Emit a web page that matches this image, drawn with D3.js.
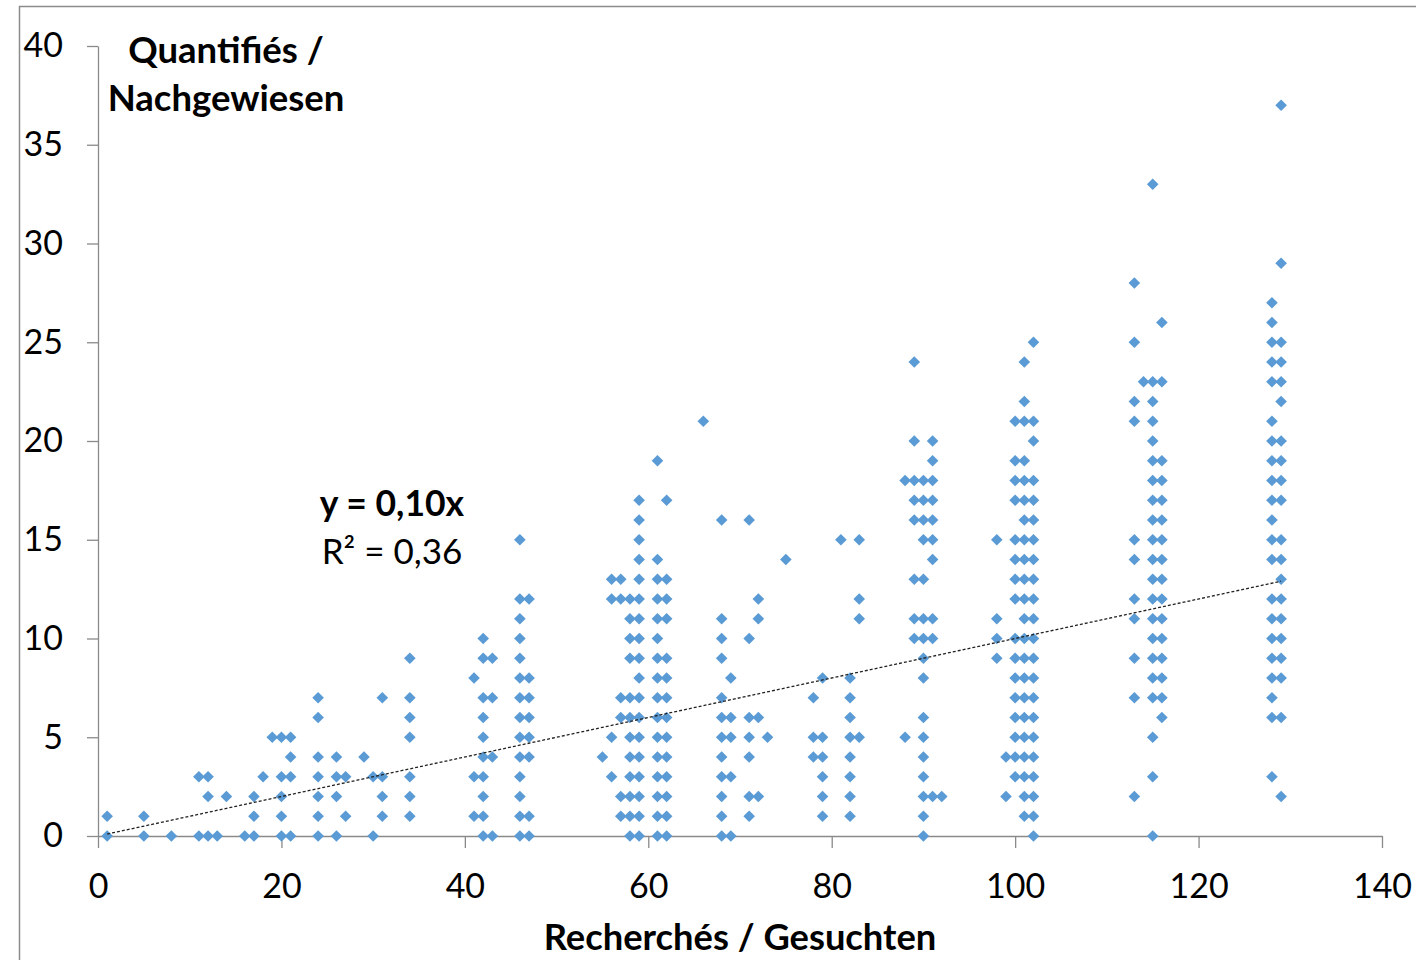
<!DOCTYPE html>
<html>
<head>
<meta charset="utf-8">
<script src="https://cdn.jsdelivr.net/npm/d3@7"></script>
<style>
  html, body { margin: 0; padding: 0; background: #fff; }
  svg { display: block; }
  text { font-family: Lato, "Open Sans", sans-serif; fill: #000; }
</style>
</head>
<body>
<svg id="chart" width="1416" height="960"></svg>
<script>
// ---- data: one entry per column (x value) with its list of y values ----
const columnX = [1, 5, 8, 11, 12, 13, 14, 16, 17, 18, 19, 20, 21, 24, 26, 27, 29, 30, 31, 34,
  41, 42, 43, 46, 47, 55, 56, 57, 58, 59, 61, 62, 66, 68, 69, 71, 72, 73, 75, 78, 79, 81, 82, 83,
  88, 89, 90, 91, 92, 98, 99, 100, 101, 102, 113, 114, 115, 116, 128, 129];
const columnY = [
  [0, 1], [0, 1], [0], [0, 3], [0, 2, 3], [0], [2], [0], [0, 1, 2], [3], [5], [0, 1, 2, 3, 5], [0, 3, 4, 5],
  [0, 1, 2, 3, 4, 6, 7], [0, 2, 3, 4], [1, 3], [4], [0, 3], [1, 2, 3, 7], [1, 2, 3, 5, 6, 7, 9],
  [1, 3, 8], [0, 1, 2, 3, 4, 5, 6, 7, 9, 10], [0, 4, 7, 9],
  [0, 1, 2, 3, 4, 5, 6, 7, 8, 9, 10, 11, 12, 15], [0, 1, 4, 5, 6, 7, 8, 12],
  [4], [3, 5, 12, 13], [1, 2, 6, 7, 12, 13], [0, 1, 2, 3, 4, 5, 6, 7, 9, 10, 11, 12],
  [0, 1, 2, 3, 4, 5, 6, 7, 8, 9, 10, 11, 12, 13, 14, 15, 16, 17],
  [0, 1, 2, 3, 4, 5, 6, 7, 8, 9, 10, 11, 12, 13, 14, 19],
  [0, 1, 2, 3, 4, 5, 6, 7, 8, 9, 11, 12, 13, 17],
  [21], [0, 1, 2, 3, 4, 5, 6, 7, 9, 10, 11, 16], [0, 3, 5, 6, 8], [1, 2, 4, 5, 6, 10, 16],
  [2, 6, 11, 12], [5], [14], [4, 5, 7], [1, 2, 3, 4, 5, 8], [15], [1, 2, 3, 4, 5, 6, 7, 8], [5, 11, 12, 15],
  [5, 18], [10, 11, 13, 16, 17, 18, 20, 24], [0, 1, 2, 3, 4, 5, 6, 8, 9, 10, 11, 13, 15, 16, 17, 18],
  [2, 10, 11, 14, 15, 16, 17, 18, 19, 20], [2],
  [9, 10, 11, 15], [2, 4],
  [3, 4, 5, 6, 7, 8, 9, 10, 12, 13, 14, 15, 17, 18, 19, 21],
  [1, 2, 3, 4, 5, 6, 7, 8, 9, 10, 11, 12, 13, 14, 15, 16, 17, 18, 19, 21, 22, 24],
  [0, 1, 2, 3, 4, 5, 6, 7, 8, 9, 10, 11, 12, 13, 14, 15, 16, 17, 18, 20, 21, 25],
  [2, 7, 9, 11, 12, 14, 15, 21, 22, 25, 28], [23],
  [0, 3, 5, 7, 8, 9, 10, 11, 12, 13, 14, 15, 16, 17, 18, 19, 20, 21, 22, 23, 33],
  [6, 7, 8, 9, 10, 11, 12, 13, 14, 15, 16, 17, 18, 19, 23, 26],
  [3, 6, 7, 8, 9, 10, 11, 12, 14, 15, 16, 17, 18, 19, 20, 21, 23, 24, 25, 26, 27],
  [2, 6, 8, 9, 10, 11, 12, 13, 14, 15, 17, 18, 19, 20, 22, 23, 24, 25, 29, 37]
];
const xTicks = [0, 20, 40, 60, 80, 100, 120, 140];
const yTicks = [0, 5, 10, 15, 20, 25, 30, 35, 40];
const trendSlope = 0.10;
const xTitle = "Recherchés / Gesuchten";
const yTitleLines = ["Quantifiés /", "Nachgewiesen"];
const equationText = "y = 0,10x";
const r2Text = "R² = 0,36";

// ---- build points ----
const points = [];
columnX.forEach((x, i) => columnY[i].forEach(y => points.push({ x, y })));

const svg = d3.select("#chart");
const plot = { left: 98, right: 1382, top: 46, bottom: 836 };

const x = d3.scaleLinear().domain([0, 140]).range([plot.left, plot.right]);
const y = d3.scaleLinear().domain([0, 40]).range([plot.bottom, plot.top]);

// outer chart-area frame
svg.append("rect")
  .attr("x", 19.5).attr("y", 6.5)
  .attr("width", 1500).attr("height", 1000)
  .attr("fill", "none").attr("stroke", "#8c8c8c").attr("stroke-width", 1.5);

const axisColor = "#8a8a8a";
const tickFont = 34;

// y axis
const yAxis = svg.append("g")
  .attr("transform", `translate(${plot.left},0)`)
  .call(d3.axisLeft(y).tickValues(yTicks).tickSize(11).tickSizeOuter(0).tickPadding(24));
yAxis.select(".domain").attr("stroke", axisColor).attr("stroke-width", 1.3);
yAxis.selectAll(".tick line").attr("stroke", axisColor).attr("stroke-width", 1.3);
yAxis.selectAll(".tick text")
  .style("font-family", "Lato, sans-serif").style("font-size", tickFont + "px").attr("fill", "#000");

// x axis
const xAxis = svg.append("g")
  .attr("transform", `translate(0,${plot.bottom})`)
  .call(d3.axisBottom(x).tickValues(xTicks).tickSize(12).tickSizeOuter(0).tickPadding(26));
xAxis.select(".domain").attr("stroke", axisColor).attr("stroke-width", 1.3);
xAxis.selectAll(".tick line").attr("stroke", axisColor).attr("stroke-width", 1.3);
xAxis.selectAll(".tick text")
  .style("font-family", "Lato, sans-serif").style("font-size", tickFont + "px").attr("fill", "#000");

// points (diamonds)
const r = 5.8;
svg.append("g").selectAll("path")
  .data(points)
  .join("path")
  .attr("transform", d => `translate(${x(d.x)},${y(d.y)})`)
  .attr("d", `M0,${-r}L${r},0L0,${r}L${-r},0Z`)
  .attr("fill", "#5B9BD5");

// trend line through origin over data range
const xMin = d3.min(columnX), xMax = d3.max(columnX);
svg.append("line")
  .attr("x1", x(xMin)).attr("y1", y(trendSlope * xMin))
  .attr("x2", x(xMax)).attr("y2", y(trendSlope * xMax))
  .attr("stroke", "#222").attr("stroke-width", 1.3)
  .attr("stroke-dasharray", "3,2");

// equation labels
svg.append("text").attr("x", 392).attr("y", 516)
  .attr("text-anchor", "middle").style("font-size", "35.5px").style("font-weight", "bold")
  .text(equationText);
svg.append("text").attr("x", 392).attr("y", 564)
  .attr("text-anchor", "middle").style("font-size", "35px")
  .text(r2Text);

// y title (inside plot, top-left)
yTitleLines.forEach((t, i) => {
  svg.append("text").attr("x", 226).attr("y", 63 + i * 48)
    .attr("text-anchor", "middle").style("font-size", "36.5px").style("font-weight", "bold")
    .text(t);
});

// x title
svg.append("text").attr("x", 740).attr("y", 950)
  .attr("text-anchor", "middle").style("font-size", "36.3px").style("font-weight", "bold")
  .text(xTitle);
</script>
</body>
</html>
